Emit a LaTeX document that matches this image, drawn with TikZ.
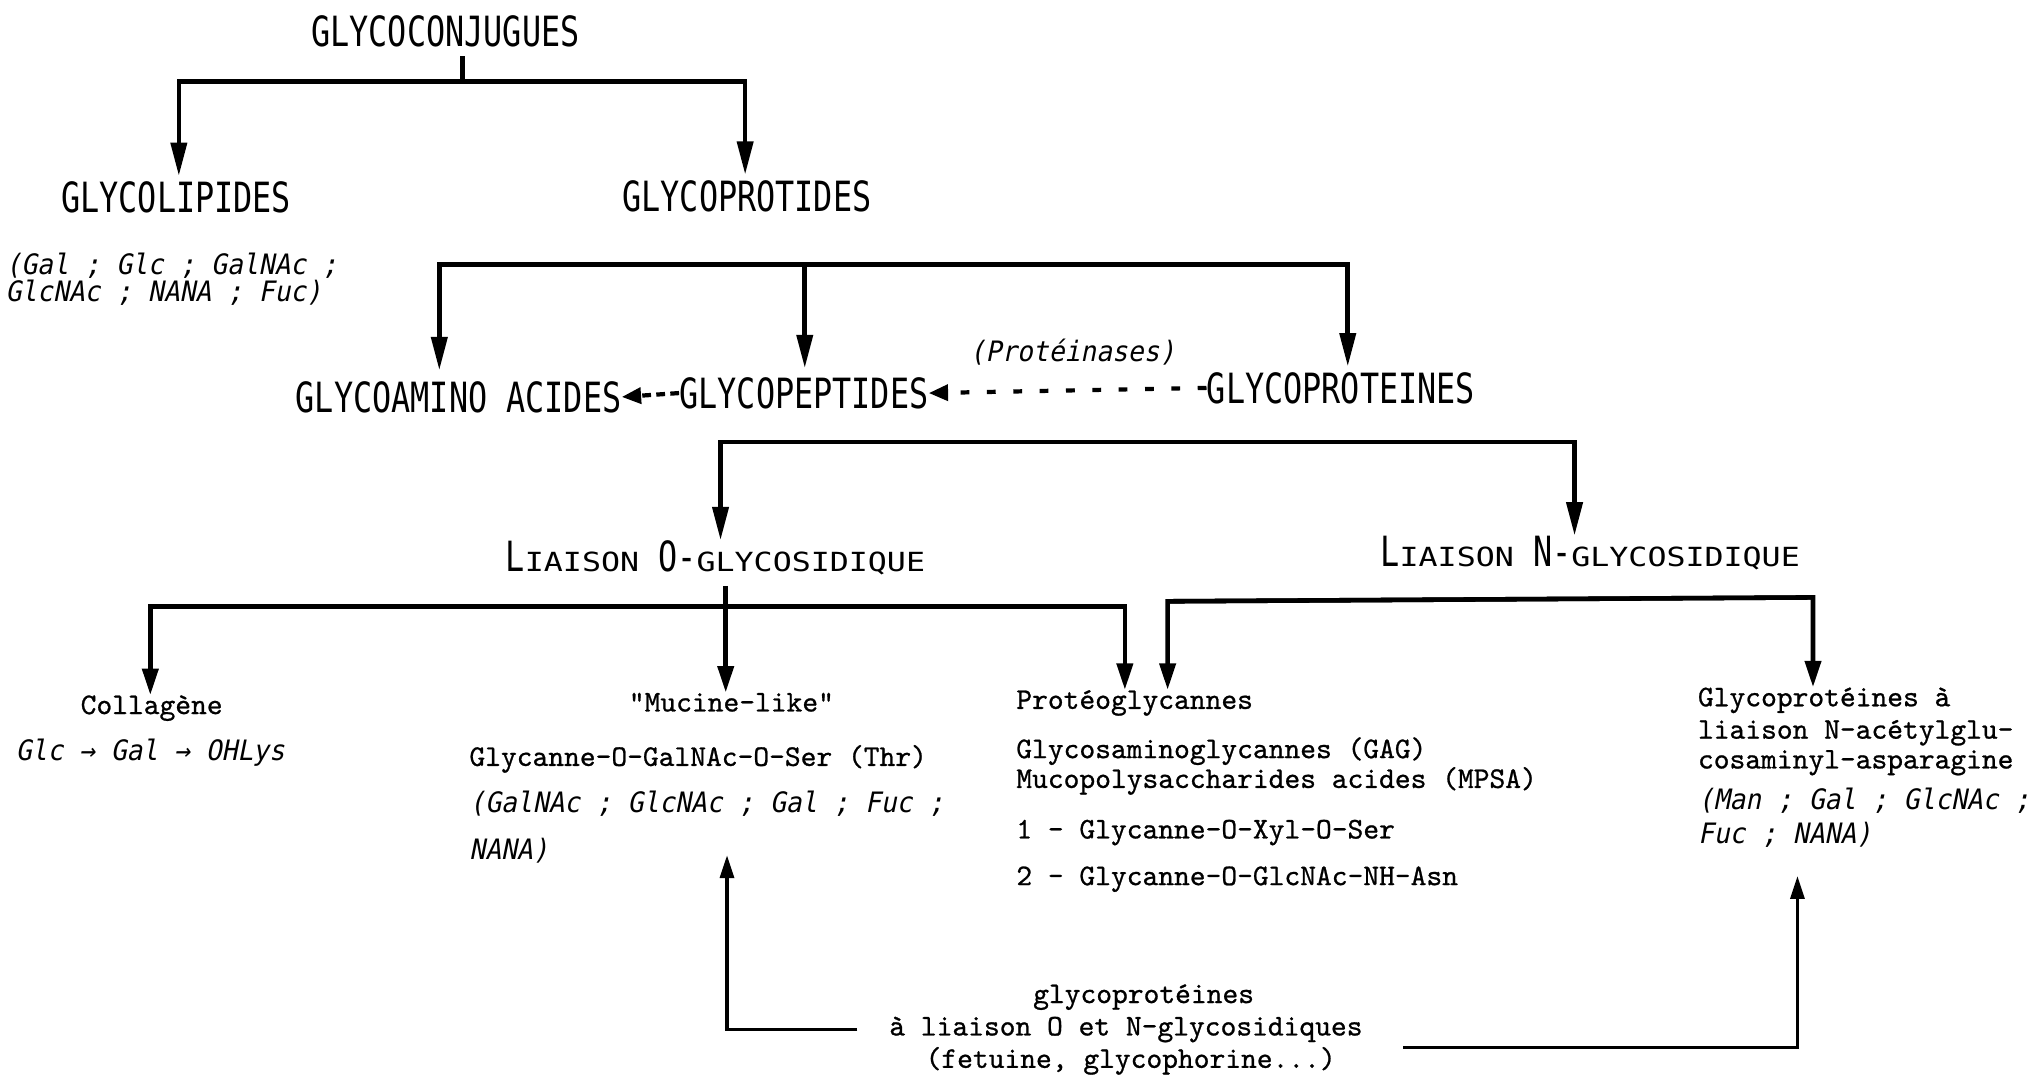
\documentclass[tikz,border=0pt]{standalone}
\usepackage{fontspec}
\usepackage{tikz}
\usetikzlibrary{arrows.meta}

\newfontfamily\capsfamily[FakeStretch=0.764]{DejaVu Sans Mono}
\newfontfamily\smallcapsfamily[FakeStretch=1.2]{DejaVu Sans Mono}
\newfontfamily\sugarfamily[FakeStretch=0.935,FakeSlant=0.2]{DejaVu Sans Mono}
\newfontfamily\typefamily[FakeBold=0.8]{lmmono10-regular.otf}
\newcommand{\headtext}{\capsfamily\fontsize{23.7}{28}\selectfont}
\newcommand{\headsmall}{\smallcapsfamily\fontsize{15}{18}\selectfont}
\newcommand{\sugartext}{\sugarfamily\fontsize{16}{19}\selectfont}
\newcommand{\typetext}{\typefamily\fontsize{17.1}{20}\selectfont}

\begin{document}
\begin{tikzpicture}[x=0.02592cm, y=-0.02592cm,
    every node/.style={inner sep=0pt, anchor=base west},
    head/.style={font=\headtext},
    body/.style={font=\typetext},
    sugar/.style={font=\sugartext},
    bar/.style={line width=2.6pt},
    arr/.style={line width=2.6pt, -{Triangle[length=19pt,width=9pt]}},
    arrs/.style={line width=2.6pt, -{Triangle[length=15pt,width=9pt]}},
    uparr/.style={line width=1.8pt, -{Triangle[length=13pt,width=8pt]}},
    dasharr/.style={line width=2.4pt, dash pattern=on 5pt off 10pt, -{Triangle[length=11pt,width=9pt]}}]
    \useasboundingbox (0,0) rectangle (1568,833);

    \node[head] (conj) at (240,36) {GLYCOCONJUGUES};
    \node[head] (lipi) at (47,164) {GLYCOLIPIDES};
    \node[head] (prot) at (480,163) {GLYCOPROTIDES};
    \node[sugar] (lipsug1) at (4,212) {(Gal ; Glc ; GalNAc ;};
    \node[sugar] (lipsug2) at (4,233) {GlcNAc ; NANA ; Fuc)};
    \node[head] (amino) at (228,318) {GLYCOAMINO ACIDES};
    \node[head] (pept) at (524,315) {GLYCOPEPTIDES};
    \node[head] (gprot) at (931,311) {GLYCOPROTEINES};
    \node[sugar] (enz) at (748,279) {(Protéinases)};
    \node[head] (lo) at (390,441) {L{\headsmall IAISON} O-{\headsmall GLYCOSIDIQUE}};
    \node[head] (ln) at (1065,437) {L{\headsmall IAISON} N-{\headsmall GLYCOSIDIQUE}};

    \node[body] (coll) at (62,551) {Collagène};
    \node[sugar] (collsug) at (12,587) {Glc → Gal → OHLys};
    \node[body] (muc) at (485,549) {"Mucine-like"};
    \node[body] (muc1) at (362,591) {Glycanne-O-GalNAc-O-Ser (Thr)};
    \node[sugar] (mucsug1) at (362,627) {(GalNAc ; GlcNAc ; Gal ; Fuc ;};
    \node[sugar] (mucsug2) at (362,663) {NANA)};
    \node[body] (pg) at (784,547) {Protéoglycannes};
    \node[body] (pg1) at (784,585) {Glycosaminoglycannes (GAG)};
    \node[body] (pg2) at (784,608) {Mucopolysaccharides acides (MPSA)};
    \node[body] (pg3) at (784,647) {1 - Glycanne-O-Xyl-O-Ser};
    \node[body] (pg4) at (784,683) {2 - Glycanne-O-GlcNAc-NH-Asn};
    \node[body] (asn1) at (1310,545) {Glycoprotéines à};
    \node[body] (asn2) at (1310,570) {liaison N-acétylglu-};
    \node[body] (asn3) at (1310,593) {cosaminyl-asparagine};
    \node[sugar] (asnsug1) at (1310,625) {(Man ; Gal ; GlcNAc ;};
    \node[sugar] (asnsug2) at (1310,651) {Fuc ; NANA)};
    \node[body] (mix1) at (797,774) {glycoprotéines};
    \node[body] (mix2) at (686,799) {à liaison O et N-glycosidiques};
    \node[body] (mix3) at (714,824) {(fetuine, glycophorine...)};

    % glycoconjugues
    \coordinate (c0) at (357,63);
    \coordinate (c0l) at (138,63);
    \coordinate (c0r) at (575,63);
    \draw[bar, shorten <=5pt] (conj.south -| c0) -- (c0);
    \draw[arr, shorten >=3pt] (c0r) -- (c0l) -- (lipi.north -| c0l);
    \draw[arr, shorten >=3pt] (c0l) -- (c0r) -- (prot.north -| c0r);

    % glycoprotides
    \coordinate (c1l) at (339,204);
    \coordinate (c1m) at (621,204);
    \coordinate (c1r) at (1040,204);
    \draw[arr, shorten >=6pt] (c1r) -- (c1l) -- (amino.north -| c1l);
    \draw[arr, shorten >=5pt] (c1m) -- (pept.north -| c1m);
    \draw[arr, shorten >=3pt] (c1l) -- (c1r) -- (gprot.north -| c1r);
    \draw[dasharr, dash pattern=on 5pt off 3pt] (pept.west) -- (amino.east);
    \draw[dasharr] (gprot.west) -- (pept.east);

    % liaisons
    \coordinate (c2l) at (556,341);
    \coordinate (c2r) at (1215,341);
    \draw[arr] (c2r) -- (c2l) -- (lo.north -| c2l);
    \draw[arr] (c2l) -- (c2r) -- (ln.north -| c2r);

    \coordinate (c3) at (560,468);
    \coordinate (c3l) at (116,468);
    \coordinate (c3r) at (868,468);
    \draw[arrs, shorten <=6pt] (lo.south -| c3) -- (muc.north -| c3);
    \draw[arrs] (c3r) -- (c3l) -- (coll.north -| c3l);
    \draw[arrs] (c3l) -- (c3r) -- (pg.north -| c3r);

    \coordinate (c4l) at (901,464);
    \coordinate (c4r) at (1399,461);
    \draw[arrs] (c4r) -- (c4l) -- (pg.north -| c4l);
    \draw[arrs] (c4l) -- (c4r) -- (asn1.north -| c4r);

    % O et N
    \coordinate (otip) at (561,660);
    \coordinate (ntip) at (1387,676);
    \draw[uparr] ([xshift=-18pt]mix2.west) -| (otip);
    \draw[uparr] ([xshift=23pt,yshift=-10pt]mix2.east) -| (ntip);
\end{tikzpicture}
\end{document}
